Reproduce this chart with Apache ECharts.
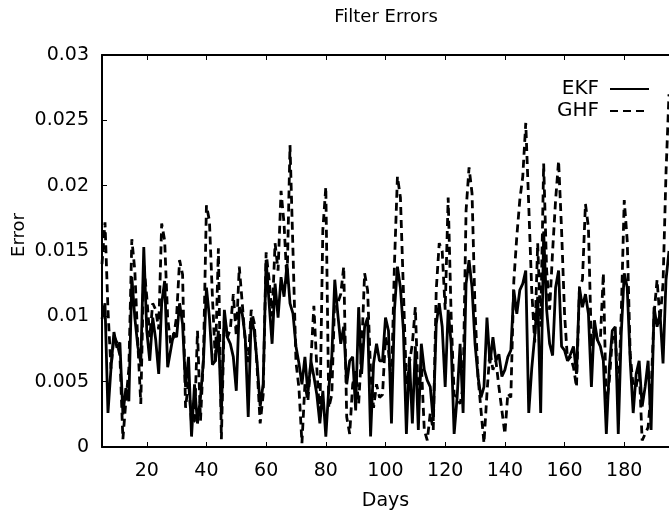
<!DOCTYPE html>
<html>
<head>
<meta charset="utf-8">
<script src="https://cdn.jsdelivr.net/npm/echarts@6/dist/echarts.min.js"></script>
<style>
html,body{margin:0;padding:0;background:#fff;}
#chart{width:669px;height:515px;}
</style>
</head>
<body>
<div id="chart"></div>
<script>
// Days 5..195
const firstDay = 5;
const ekf = [
0.0098,0.0110,0.0026,0.0060,0.0088,0.0076,0.0080,0.0025,0.0045,0.0035,
0.0130,0.0099,0.0077,0.0064,0.0153,0.0089,0.0066,0.0099,0.0082,0.0056,
0.0110,0.0127,0.0061,0.0074,0.0087,0.0084,0.0110,0.0094,0.0046,0.0069,
0.0008,0.0048,0.0018,0.0038,0.0066,0.0122,0.0099,0.0063,0.0066,0.0089,
0.0025,0.0105,0.0084,0.0079,0.0069,0.0043,0.0107,0.0102,0.0084,0.0023,
0.0099,0.0089,0.0064,0.0031,0.0048,0.0143,0.0110,0.0079,0.0125,0.0099,
0.0130,0.0115,0.0140,0.0110,0.0102,0.0077,0.0064,0.0048,0.0069,0.0041,
0.0066,0.0054,0.0040,0.0018,0.0043,0.0008,0.0045,0.0069,0.0128,0.0102,
0.0079,0.0092,0.0048,0.0066,0.0069,0.0028,0.0107,0.0056,0.0092,0.0099,
0.0008,0.0064,0.0079,0.0066,0.0066,0.0099,0.0089,0.0018,0.0105,0.0138,
0.0122,0.0089,0.0010,0.0069,0.0018,0.0077,0.0013,0.0079,0.0059,0.0051,
0.0046,0.0020,0.0094,0.0110,0.0092,0.0046,0.0105,0.0079,0.0010,0.0038,
0.0079,0.0026,0.0125,0.0143,0.0122,0.0079,0.0054,0.0038,0.0046,0.0099,
0.0064,0.0084,0.0066,0.0071,0.0054,0.0059,0.0069,0.0074,0.0120,0.0102,
0.0120,0.0125,0.0135,0.0026,0.0060,0.0085,0.0115,0.0026,0.0165,0.0105,
0.0079,0.0070,0.0122,0.0135,0.0077,0.0074,0.0066,0.0071,0.0077,0.0056,
0.0122,0.0107,0.0117,0.0102,0.0046,0.0097,0.0082,0.0077,0.0066,0.0010,
0.0061,0.0089,0.0092,0.0010,0.0087,0.0133,0.0122,0.0066,0.0026,0.0056,
0.0066,0.0031,0.0046,0.0066,0.0013,0.0107,0.0092,0.0102,0.0064,0.0128,
0.0150
];
const ghf = [
0.0140,0.0172,0.0105,0.0060,0.0085,0.0080,0.0070,0.0006,0.0035,0.0060,
0.0159,0.0135,0.0080,0.0033,0.0140,0.0115,0.0084,0.0110,0.0105,0.0090,
0.0171,0.0158,0.0099,0.0079,0.0084,0.0100,0.0143,0.0132,0.0030,0.0050,
0.0018,0.0020,0.0089,0.0020,0.0069,0.0185,0.0173,0.0115,0.0065,0.0152,
0.0006,0.0100,0.0084,0.0090,0.0117,0.0085,0.0138,0.0110,0.0080,0.0065,
0.0105,0.0095,0.0060,0.0018,0.0040,0.0149,0.0128,0.0100,0.0156,0.0135,
0.0196,0.0171,0.0125,0.0231,0.0150,0.0065,0.0045,0.0003,0.0048,0.0035,
0.0066,0.0108,0.0060,0.0022,0.0166,0.0199,0.0030,0.0040,0.0115,0.0110,
0.0117,0.0138,0.0023,0.0010,0.0048,0.0058,0.0033,0.0074,0.0133,0.0120,
0.0058,0.0030,0.0048,0.0038,0.0040,0.0084,0.0074,0.0048,0.0140,0.0207,
0.0191,0.0120,0.0048,0.0064,0.0079,0.0107,0.0036,0.0064,0.0013,0.0005,
0.0026,0.0013,0.0120,0.0156,0.0150,0.0105,0.0191,0.0100,0.0040,0.0038,
0.0033,0.0046,0.0181,0.0214,0.0194,0.0105,0.0054,0.0028,0.0003,0.0041,
0.0074,0.0059,0.0066,0.0046,0.0028,0.0010,0.0041,0.0038,0.0127,0.0161,
0.0189,0.0207,0.0248,0.0185,0.0120,0.0080,0.0156,0.0092,0.0217,0.0135,
0.0105,0.0150,0.0189,0.0219,0.0166,0.0102,0.0066,0.0069,0.0061,0.0046,
0.0122,0.0128,0.0186,0.0168,0.0077,0.0092,0.0082,0.0082,0.0133,0.0031,
0.0051,0.0082,0.0087,0.0036,0.0102,0.0189,0.0158,0.0071,0.0046,0.0046,
0.0061,0.0005,0.0010,0.0015,0.0043,0.0102,0.0128,0.0097,0.0125,0.0210,
0.0270
];
const xTicks = [20,40,60,80,100,120,140,160,180];
const xMin = 5, xMax = 195;
const yMin = 0, yMax = 0.03, yStep = 0.005;

const toPairs = arr => arr.map((v,i)=>[firstDay+i, v]);
const FONT = "'DejaVu Sans', 'Liberation Sans', Arial, sans-serif";

const chart = echarts.init(document.getElementById('chart'), null, {renderer:'canvas'});
const axisLineStyle = {color:'#000', width:2};
chart.setOption({
  animation:false,
  backgroundColor:'#fff',
  title:{text:'Filter Errors', left:381, top:3, textAlign:'center',
    textStyle:{fontFamily:FONT, fontSize:18, fontWeight:'normal', color:'#000'}},
  legend:{
    data:['EKF','GHF'], orient:'vertical', right:19, top:79, align:'right', padding:0,
    itemWidth:39, itemHeight:14, itemGap:2,
    itemStyle:{opacity:0},
    textStyle:{fontFamily:FONT, fontSize:20, color:'#000', lineHeight:20, padding:[0,6,0,0]}
  },
  grid:{left:102, right:0, top:55, bottom:68, outerBoundsMode:'none', containLabel:false},
  xAxis:[{
    type:'value', min:xMin, max:xMax, position:'bottom',
    name:'Days', nameLocation:'middle', nameGap:45, nameMoveOverlap:false,
    nameTextStyle:{fontFamily:FONT, fontSize:19, color:'#000'},
    axisLine:{show:true, lineStyle:axisLineStyle},
    axisTick:{show:true, inside:true, length:5, customValues:xTicks, lineStyle:{color:'#000', width:1}},
    axisLabel:{customValues:xTicks, margin:15, fontFamily:FONT, fontSize:19, color:'#000'},
    splitLine:{show:false}
  },{
    type:'value', min:xMin, max:xMax, position:'top',
    axisLine:{show:true, onZero:false, lineStyle:axisLineStyle},
    axisTick:{show:true, inside:true, length:5, customValues:xTicks, lineStyle:{color:'#000', width:1}},
    axisLabel:{show:false}, splitLine:{show:false}
  }],
  yAxis:[{
    type:'value', min:yMin, max:yMax, interval:yStep,
    name:'Error', nameLocation:'middle', nameGap:74, nameRotate:90, nameMoveOverlap:false,
    nameTextStyle:{fontFamily:FONT, fontSize:18, color:'#000', padding:[0,0,0,32]},
    axisLine:{show:true, lineStyle:axisLineStyle},
    axisTick:{show:true, inside:true, length:5, lineStyle:{color:'#000', width:1}},
    axisLabel:{margin:13, fontFamily:FONT, fontSize:19, color:'#000'},
    splitLine:{show:false}
  }],
  series:[{
    name:'EKF', type:'line', data:toPairs(ekf), symbol:'none',
    lineStyle:{color:'#000', width:2.8, type:'solid'}, itemStyle:{color:'#000'}
  },{
    name:'GHF', type:'line', data:toPairs(ghf), symbol:'none',
    lineStyle:{color:'#000', width:2.8, type:[8,5]}, itemStyle:{color:'#000'}
  }]
});
</script>
</body>
</html>
